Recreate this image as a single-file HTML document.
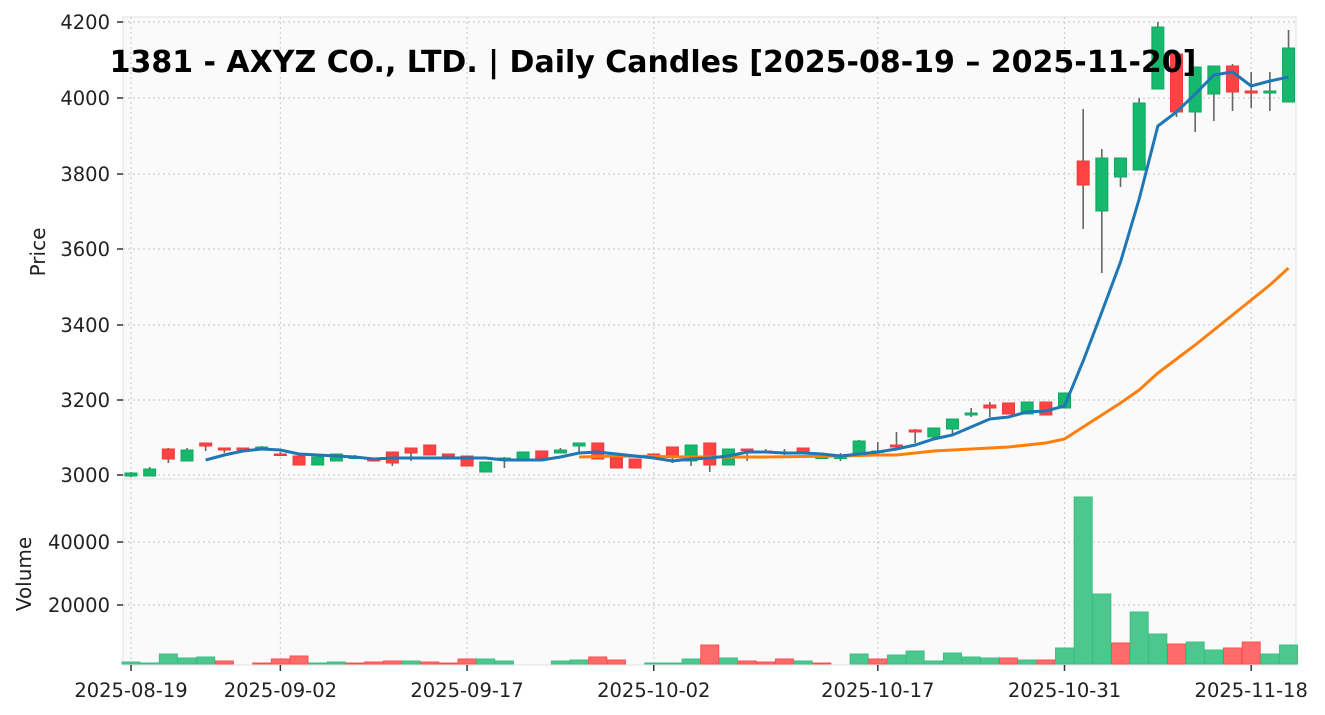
<!DOCTYPE html>
<html><head><meta charset="utf-8"><style>
html,body{margin:0;padding:0;background:#fff;}
svg{display:block;font-family:"DejaVu Sans","Liberation Sans",sans-serif;}
</style></head><body>
<svg id="s" width="1325" height="715" xmlns="http://www.w3.org/2000/svg">
<rect x="123" y="17" width="1173" height="462" fill="#fafafa" stroke="#ebebeb" stroke-width="1.5"/>
<rect x="123" y="479" width="1173" height="186" fill="#fafafa" stroke="#ebebeb" stroke-width="1.5"/>
<g id="grid" stroke="#cfcfcf" stroke-width="1.2" stroke-dasharray="2,3"></g>
<g id="vol"></g>
<g id="cand"></g>
<polyline id="ma2" fill="none" stroke="#ff7f0e" stroke-width="3"/>
<polyline id="ma1" fill="none" stroke="#1f77b4" stroke-width="3"/>
<g id="ticks" stroke="#333" stroke-width="1.5"></g>
<g id="lbl" font-size="19.5" fill="#222"></g>
<text x="45" y="252" font-size="20" fill="#222" transform="rotate(-90 45 252)" text-anchor="middle">Price</text>
<text x="31" y="574" font-size="20" fill="#222" transform="rotate(-90 31 574)" text-anchor="middle">Volume</text>
<text x="653" y="72" font-size="30" font-weight="bold" text-anchor="middle" fill="#000">1381 - AXYZ CO., LTD. | Daily Candles [2025-08-19 – 2025-11-20]</text>
</svg>
<script>
const X=i=>131+i*18.67;
const C=[[473,476,472,477,1],[469,476,467,476,1],[449,459,448,463,0],[450,461,448,461,1],[443,446,443,451,0],[448,450,448,453,0],[448,450,448,450,0],[447,448,446,450,1],[454,455,452,456,0],[456,465,456,465,0],[457,465,457,465,1],[454,461,454,461,1],[457,458,455,459,1],[458,461,458,461,0],[452,463,452,466,0],[448,453,448,461,0],[445,455,445,455,0],[454,456,454,456,0],[456,466,456,466,0],[462,472,462,472,1],[458,459,457,468,1],[452,461,452,461,1],[451,458,451,460,0],[450,453,448,453,1],[443,446,443,452,1],[443,459,443,459,0],[458,468,458,468,0],[459,468,459,468,0],[454,456,454,456,0],[447,455,447,463,0],[445,461,445,466,1],[443,465,443,472,0],[449,465,449,465,1],[449,450,449,461,0],[451,453,449,453,0],[452,453,449,455,1],[448,453,448,453,0],[457,458,456,458,1],[457,458,453,461,1],[441,453,440,453,1],[451,452,442,453,1],[445,447,432,447,0],[430,432,429,443,0],[428,437,428,438,1],[419,429,419,434,1],[413,415,408,417,1],[405,408,402,417,0],[403,414,403,414,0],[402,414,402,414,1],[402,415,402,415,0],[393,408,393,408,1],[161,185,109,229,0],[158,211,149,273,1],[158,177,158,187,1],[103,170,98,170,1],[27,89,22,89,1],[54,112,54,117,0],[67,112,67,132,1],[66,94,66,121,1],[66,92,64,111,0],[91,93,72,108,0],[91,93,72,111,1],[48,102,30,102,1]];
const V=[[662,1],[663,1],[654,1],[658,1],[657,1],[661,0],[665,0],[663,0],[659,0],[656,0],[663,1],[662,1],[663,0],[662,0],[661,0],[661,1],[662,0],[663,0],[659,0],[659,1],[661,1],[665,1],[664,0],[661,1],[660,1],[657,0],[660,0],[664,0],[663,1],[663,1],[659,1],[645,0],[658,1],[661,0],[662,0],[659,0],[661,1],[663,0],[664,0],[654,1],[659,0],[655,1],[651,1],[661,1],[653,1],[657,1],[658,1],[658,0],[660,1],[660,0],[648,1],[497,1],[594,1],[643,0],[612,1],[634,1],[644,0],[642,1],[650,1],[648,0],[642,0],[654,1],[645,1]];
const B=[[4,460],[5,455],[6,451],[7,449],[8,450],[9,454],[10,455],[11,456],[12,457],[13,459],[14,458],[15,458],[16,458],[17,458],[18,458],[19,458],[20,460],[21,460],[22,460],[23,457],[24,453],[25,452],[26,454],[27,456],[28,458],[29,461],[30,459],[31,458],[32,456],[33,452],[34,452],[35,453],[36,453],[37,454],[38,456],[39,454],[40,452],[41,449],[42,445],[43,439],[44,435],[45,427],[46,419],[47,417],[48,412],[49,411],[50,406],[51,361],[52,312],[53,262],[54,199],[55,126],[56,112],[57,94],[58,75],[59,72],[60,86],[61,81],[62,77]];
const O=[[24,457],[26,456],[30,457],[34,457],[38,456],[40,455],[41,455],[42,453],[43,451],[45,449],[47,447],[49,443],[50,439],[51,427],[52,415],[53,403],[54,390],[55,373],[56,359],[57,345],[58,330],[59,315],[60,300],[61,285],[62,268]];
const NS='http://www.w3.org/2000/svg';
function el(p,t,a,txt){const e=document.createElementNS(NS,t);for(const k in a)e.setAttribute(k,a[k]);if(txt)e.textContent=txt;document.getElementById(p).appendChild(e);}
[0,8,18,28,40,50,60].forEach(i=>{el('grid','line',{x1:X(i),x2:X(i),y1:17,y2:665});el('ticks','line',{x1:X(i),x2:X(i),y1:665,y2:671});});
[[22,'4200'],[98,'4000'],[174,'3800'],[249,'3600'],[325,'3400'],[400,'3200'],[475,'3000']].forEach(([y,t])=>{el('grid','line',{x1:123,x2:1296,y1:y,y2:y});el('ticks','line',{x1:117,x2:123,y1:y,y2:y});el('lbl','text',{x:110,y:y+7,'text-anchor':'end'},t);});
[[542,'40000'],[605,'20000']].forEach(([y,t])=>{el('grid','line',{x1:123,x2:1296,y1:y,y2:y});el('ticks','line',{x1:117,x2:123,y1:y,y2:y});el('lbl','text',{x:110,y:y+7,'text-anchor':'end'},t);});
[[0,'2025-08-19'],[8,'2025-09-02'],[18,'2025-09-17'],[28,'2025-10-02'],[40,'2025-10-17'],[50,'2025-10-31'],[60,'2025-11-18']].forEach(([i,t])=>el('lbl','text',{x:X(i),y:697,'text-anchor':'middle'},t));
V.forEach(([y,u],i)=>{if(y>=665)return;el('vol','rect',{x:X(i)-9,y:y,width:18,height:664-y,fill:u?'#4cc88f':'#ff6b6b',stroke:u?'#3dbf84':'#ff5050','stroke-width':1});});
C.forEach(([t,b,wt,wb,u],i)=>{const x=X(i);el('cand','line',{x1:x,x2:x,y1:wt,y2:wb,stroke:'#666','stroke-width':1.6});el('cand','rect',{x:x-6,y:t,width:12,height:Math.max(b-t,1.5),fill:u?'#16b86d':'#ff4242',stroke:u?'#12a862':'#f03a3a','stroke-width':1});});
document.getElementById('ma1').setAttribute('points',B.map(([i,y])=>X(i)+','+y).join(' '));
document.getElementById('ma2').setAttribute('points',O.map(([i,y])=>X(i)+','+y).join(' '));
</script>
</body></html>
